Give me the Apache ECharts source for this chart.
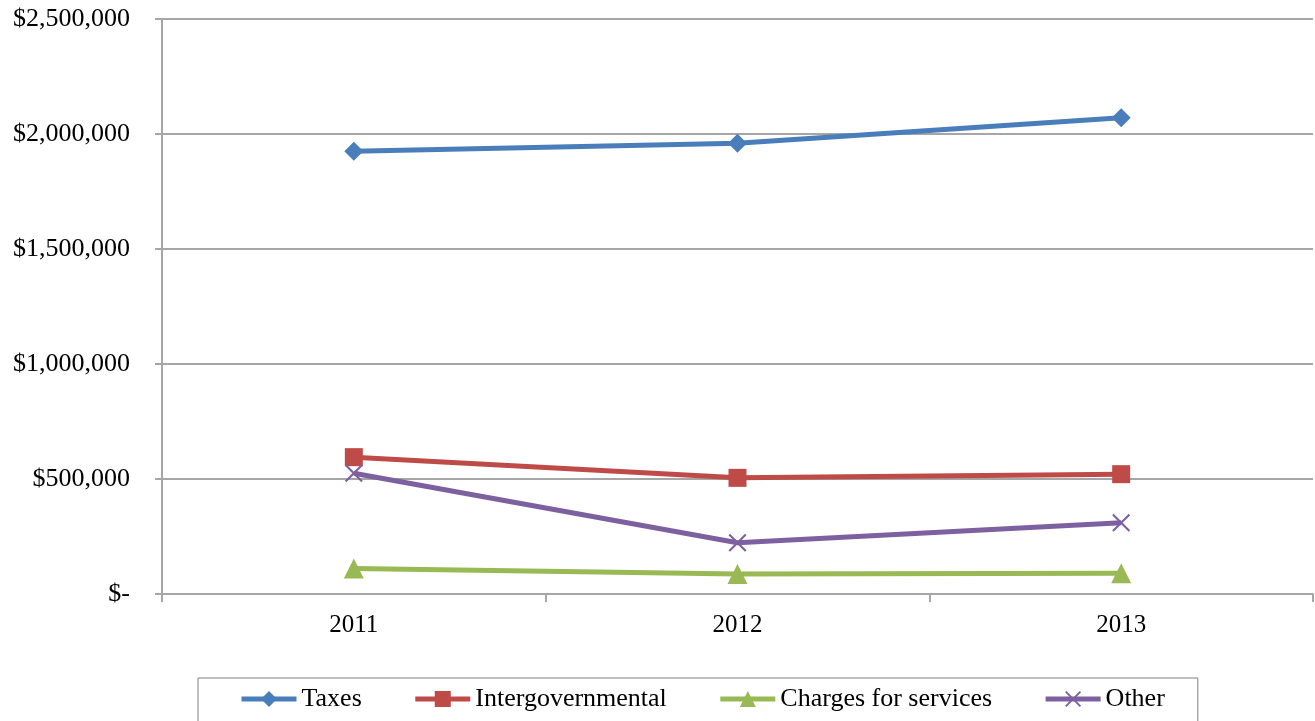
<!DOCTYPE html>
<html>
<head>
<meta charset="utf-8">
<script src="https://cdn.jsdelivr.net/npm/echarts@6/dist/echarts.min.js"></script>
<style>
html,body{margin:0;padding:0;background:#fff;}
#chart{width:1315px;height:721px;}
</style>
</head>
<body>
<div id="chart"></div>
<script>
var categories = ['2011', '2012', '2013'];
var taxes = [1925000, 1960000, 2071000];
var intergovernmental = [595000, 505000, 521000];
var charges = [111000, 87000, 90000];
var other = [525000, 223000, 310000];
var seriesNames = ['Taxes', 'Intergovernmental', 'Charges for services', 'Other'];

var xPath = 'path://M0,1.5L1.5,0L9,7.5L16.5,0L18,1.5L10.5,9L18,16.5L16.5,18L9,10.5L1.5,18L0,16.5L7.5,9Z';
var font = '"Liberation Serif", "Times New Roman", serif';
var gray = '#a6a6a6';

function fmt(v) {
  if (v === 0) return '$-';
  return '$' + v.toString().replace(/\B(?=(\d{3})+(?!\d))/g, ',');
}

var chart = echarts.init(document.getElementById('chart'));
chart.setOption({
  animation: false,
  backgroundColor: '#fff',
  grid: { left: 162, right: 2, top: 19, bottom: 127, containLabel: false },
  legend: {
    left: 198, top: 678,
    padding: [8, 33, 20, 41],
    itemGap: 51,
    itemWidth: 55, itemHeight: 20,
    lineStyle: { width: 5 },
    borderColor: '#808080', borderWidth: 1,
    textStyle: { fontFamily: font, fontSize: 26, color: '#000' },
    data: seriesNames
  },
  xAxis: {
    type: 'category',
    data: categories,
    boundaryGap: true,
    axisLine: { lineStyle: { color: gray, width: 2 } },
    axisTick: { show: true, length: 8, lineStyle: { color: gray, width: 2 } },
    axisLabel: { fontFamily: font, fontSize: 25, color: '#000', margin: 19 }
  },
  yAxis: {
    type: 'value',
    min: 0, max: 2500000, interval: 500000,
    axisLine: { show: true, lineStyle: { color: gray, width: 2 } },
    axisTick: { show: true, length: 7, lineStyle: { color: gray, width: 2 } },
    splitLine: { lineStyle: { color: gray, width: 2 } },
    axisLabel: { fontFamily: font, fontSize: 26, color: '#000', margin: 32, formatter: fmt }
  },
  series: [
    { name: seriesNames[0], type: 'line', data: taxes, color: '#4a7ebb',
      symbol: 'diamond', symbolSize: 19, lineStyle: { width: 5 } },
    { name: seriesNames[1], type: 'line', data: intergovernmental, color: '#be4b48',
      symbol: 'rect', symbolSize: 18, lineStyle: { width: 5 } },
    { name: seriesNames[2], type: 'line', data: charges, color: '#98b954',
      symbol: 'triangle', symbolSize: 20, lineStyle: { width: 5 } },
    { name: seriesNames[3], type: 'line', data: other, color: '#7d60a0',
      symbol: xPath, symbolSize: 18, lineStyle: { width: 5 } }
  ]
});
</script>
</body>
</html>
